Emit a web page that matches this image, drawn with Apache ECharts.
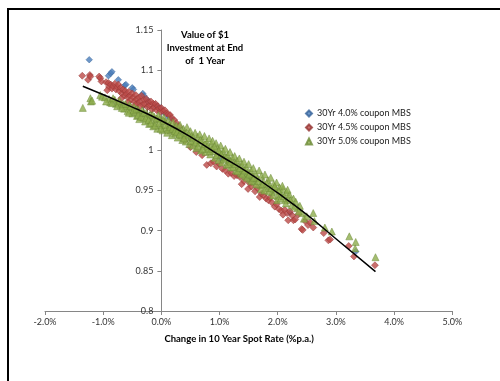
<!DOCTYPE html>
<html>
<head>
<meta charset="utf-8">
<script src="https://cdn.jsdelivr.net/npm/echarts@6/dist/echarts.min.js"></script>
<style>
html,body{margin:0;padding:0;background:#fff;}
#c{width:500px;height:381px;}
</style>
</head>
<body>
<div id="c"></div>
<script>
const seriesNames = ['30Yr 4.0% coupon MBS', '30Yr 4.5% coupon MBS', '30Yr 5.0% coupon MBS'];
const titleLines = ['Value of $1', 'Investment at End', 'of  1 Year'];
const xAxisTitle = 'Change in 10 Year Spot Rate (%p.a.)';

// [change in rate (%), value of $1]
const mbs40 = [
[-1.24,1.113],[-0.91,1.093],[-0.87,1.096],[-0.85,1.098],[-0.74,1.088],[-0.63,1.081],[-0.61,1.082],
[-0.5,1.078],[-0.48,1.076],[-0.32,1.071],[-0.3,1.068],[-0.24,1.063],[-0.22,1.060],[-0.11,1.057],
[-0.06,1.054],[-0.02,1.053],[0.05,1.047],[0.12,1.042],[0.15,1.040],[0.5,1.015],[1.0,0.990],
[1.5,0.965],[2.21,0.922],[3.34,0.874]
];
const mbs45 = [
[-1.36,1.093],[-1.23,1.094],[-1.26,1.088],[-1.22,1.092],[-1.07,1.092],[-1.05,1.090],[-1.03,1.086],
[-0.95,1.085],[-0.91,1.084],[-0.9,1.079],[-0.87,1.082],[-0.85,1.077],[-0.83,1.080],[-0.8,1.083],
[-0.78,1.076],[-0.76,1.079],[-0.74,1.082],[-0.72,1.074],[-0.7,1.078],[-0.68,1.071],[-0.66,1.076],
[-0.64,1.068],[-0.62,1.074],[-0.6,1.070],[-0.58,1.066],[-0.56,1.073],[-0.54,1.068],[-0.52,1.063],
[-0.5,1.071],[-0.48,1.066],[-0.46,1.061],[-0.44,1.069],[-0.42,1.064],[-0.4,1.059],[-0.38,1.066],
[-0.36,1.061],[-0.34,1.068],[-0.32,1.057],[-0.3,1.063],[-0.28,1.058],[-0.26,1.064],[-0.24,1.054],
[-0.22,1.060],[-0.2,1.056],[-0.18,1.061],[-0.16,1.051],[-0.14,1.058],[-0.12,1.054],[-0.1,1.058],
[-0.08,1.050],[-0.06,1.055],[-0.04,1.052],[-0.02,1.048],[0.0,1.053],[0.03,1.049],[0.06,1.050],
[0.09,1.046],[0.12,1.045],[0.15,1.044],[0.18,1.040],[0.22,1.038],[0.26,1.034],[0.3,1.030],
[-0.93,1.075],[-0.69,1.065],[-0.57,1.060],[-0.45,1.057],[-0.37,1.055],
[0.4,1.012],[0.5,1.004],[0.6,0.998],[0.7,0.994],[0.78,0.982],[0.85,0.984],[0.9,0.986],[0.95,0.980],
[1.0,0.983],[1.05,0.977],[1.1,0.975],[1.15,0.971],[1.2,0.972],[1.25,0.968],[1.3,0.969],[1.35,0.967],
[1.38,0.958],[1.42,0.962],[1.49,0.952],[1.52,0.959],[1.55,0.955],[1.61,0.949],[1.65,0.953],
[1.69,0.942],[1.72,0.946],[1.76,0.944],[1.8,0.940],[1.84,0.938],[1.87,0.941],[1.9,0.935],
[1.95,0.930],[1.98,0.933],[2.02,0.927],[2.06,0.925],[2.09,0.920],[2.12,0.926],[2.16,0.922],
[2.18,0.913],[2.21,0.924],[2.25,0.919],[2.27,0.913],[2.3,0.914],[2.35,0.920],[2.41,0.902],
[2.43,0.901],[2.47,0.912],[2.52,0.907],[2.56,0.910],[2.61,0.904],[2.79,0.897],[2.87,0.888],
[2.9,0.889],[3.22,0.881],[3.31,0.868],[3.67,0.857]
];
const mbs50 = [
[-1.35,1.053],[-1.22,1.065],[-1.21,1.061],[-1.19,1.062],[-1.05,1.069],[-1.02,1.067],[-0.97,1.066],
[-0.9,1.064],[-0.88,1.060],[-0.8,1.063],[-0.78,1.058],[-0.74,1.060],[-0.7,1.056],[-0.66,1.058],
[-0.64,1.052],[-0.6,1.055],[-0.58,1.049],[-0.55,1.057],[-0.52,1.051],[-0.5,1.046],[-0.47,1.054],
[-0.45,1.048],[-0.42,1.043],[-0.4,1.051],[-0.38,1.039],[-0.36,1.046],[-0.33,1.050],[-0.31,1.041],
[-0.28,1.036],[-0.26,1.047],[-0.24,1.043],[-0.21,1.033],[-0.19,1.045],[-0.17,1.038],[-0.14,1.030],
[-0.12,1.042],[-0.1,1.035],[-0.07,1.027],[-0.05,1.044],[-0.03,1.039],[0.0,1.031],[0.02,1.025],
[0.04,1.041],[0.06,1.036],[0.08,1.028],[0.1,1.022],[0.12,1.038],[0.14,1.032],[0.16,1.025],
[0.18,1.019],[0.2,1.035],[0.22,1.029],[0.24,1.021],[0.26,1.031],[0.28,1.016],[0.3,1.026],
[0.32,1.032],[0.34,1.019],[0.36,1.013],[0.38,1.027],[0.4,1.021],[0.42,1.011],[0.44,1.029],
[0.46,1.016],[0.48,1.008],[0.5,1.024],[0.52,1.018],[0.54,1.006],[0.56,1.012],[0.58,1.022],
[0.6,1.003],[0.62,1.017],[0.64,1.009],[0.66,1.020],[0.68,1.000],[0.7,1.013],[0.72,1.006],
[0.74,1.018],[0.76,0.998],[0.78,1.010],[0.8,1.002],[0.82,1.015],[0.84,0.995],[0.86,1.007],
[0.88,1.012],[0.9,0.999],[0.92,0.991],[0.94,1.009],[0.96,1.003],[0.98,0.988],[1.0,0.997],
[1.02,1.006],[1.04,0.985],[1.06,0.999],[1.08,0.992],[1.1,1.002],[1.12,0.982],[1.14,0.994],
[1.16,0.988],[1.18,0.998],[1.2,0.979],[1.22,0.991],[1.24,0.984],[1.26,0.993],[1.28,0.975],
[1.3,0.987],[1.32,0.980],[1.34,0.990],[1.36,0.972],[1.38,0.983],[1.4,0.976],[1.42,0.986],
[1.44,0.968],[1.46,0.979],[1.48,0.972],[1.5,0.983],[1.52,0.964],[1.54,0.975],[1.56,0.968],
[1.58,0.978],[1.6,0.961],[1.62,0.971],[1.65,0.965],[1.68,0.975],[1.7,0.957],[1.72,0.968],
[1.75,0.961],[1.78,0.970],[1.8,0.953],[1.83,0.963],[1.86,0.956],[1.88,0.966],[1.9,0.948],
[1.93,0.958],[1.96,0.951],[1.98,0.960],[2.0,0.943],[2.03,0.954],[2.06,0.946],[2.09,0.952],
[2.12,0.938],[2.15,0.948],[2.18,0.940],[2.2,0.945],[2.24,0.932],[2.27,0.940],[2.31,0.936],
[2.34,0.928],[2.38,0.931],[2.42,0.922],[2.45,0.915],[2.5,0.918],[2.61,0.922],[2.63,0.912],
[2.81,0.904],[2.93,0.899],[3.23,0.893],[3.34,0.886],[3.33,0.878],[3.68,0.867],
[-0.95,1.061],[-0.85,1.059],[-0.83,1.065],[-0.76,1.055],[-0.72,1.062],[-0.68,1.053],[-0.62,1.058],
[-0.56,1.047],[-0.53,1.055],[-0.48,1.050],[-0.43,1.052],[-0.4,1.044],[-0.35,1.042],[-0.3,1.047],
[-0.27,1.040],[-0.22,1.038],[-0.18,1.034],[-0.15,1.044],[-0.11,1.031],[-0.08,1.040],[-0.04,1.034],
[-0.01,1.027],[0.03,1.037],[0.07,1.032],[0.11,1.026],[0.15,1.029],[0.19,1.027],[0.23,1.024],
[0.27,1.023],[0.31,1.020],[0.35,1.025],[0.39,1.015],[0.43,1.022],[0.47,1.020],[0.51,1.012],
[0.55,1.016],[0.59,1.010],[0.63,1.005],[0.67,1.013],[0.71,1.002],[0.75,1.008],[0.79,1.005],
[0.83,0.999],[0.87,1.002],[0.91,1.005],[0.95,0.994],[0.99,1.000],[1.03,0.995],[1.07,0.989],
[1.11,0.991],[1.15,0.983],[1.19,0.986],[1.23,0.979],[1.27,0.983],[1.31,0.974],[1.35,0.978],
[1.39,0.970],[1.43,0.975],[1.47,0.966],[1.51,0.970],[1.55,0.962],[1.59,0.966],[1.63,0.958],
[1.67,0.962],[1.71,0.952],[1.74,0.958],[1.77,0.950],[1.81,0.959],[1.85,0.949],[1.89,0.953],
[1.92,0.944],[1.95,0.955],[1.99,0.938],[2.02,0.949],[2.05,0.940],[2.08,0.956],[2.11,0.943],
[2.14,0.934],[2.17,0.951],[2.22,0.938],[2.29,0.930],[2.36,0.924]
];
// trend line
const trendX = [-1.35, -0.5, 0, 0.5, 1, 1.5, 2, 2.5, 3, 3.68];
const trendY = [1.080, 1.054, 1.037, 1.017, 0.994, 0.972, 0.947, 0.920, 0.890, 0.849];

const colors = ['#4A7DBA', '#BC4A47', '#8DAD4C'];
const borders = ['#36639A', '#933532', '#6C8A36'];
const FONT = 'Lato, "Open Sans", sans-serif';

const chart = echarts.init(document.getElementById('c'), null, {renderer: 'canvas'});
chart.setOption({
  animation: false,
  backgroundColor: '#fff',
  color: colors,
  graphic: [
    {type: 'rect', shape: {x: 8, y: 9, width: 700, height: 700},
     style: {fill: 'none', stroke: '#000', lineWidth: 2}, silent: true},
    {type: 'text', x: 205, y: 28,
     style: {text: titleLines.join('\n'), align: 'center', verticalAlign: 'top',
             font: 'bold 9.5px ' + FONT, lineHeight: 13, fill: '#000'}}
  ],
  legend: {
    orient: 'vertical', left: 300, top: 103,
    itemWidth: 6, itemHeight: 6, itemGap: 3,
    textStyle: {fontFamily: FONT, fontSize: 9, color: '#222', lineHeight: 11},
    data: [
      {name: seriesNames[0], icon: 'diamond'},
      {name: seriesNames[1], icon: 'diamond'},
      {name: seriesNames[2], icon: 'triangle'}
    ]
  },
  grid: {left: 45, right: 47.7, top: 30, bottom: 70, containLabel: false, outerBoundsMode: 'none'},
  xAxis: {
    type: 'value', min: -2, max: 5, interval: 1,
    splitLine: {show: false},
    axisLine: {onZero: false, lineStyle: {color: '#868686'}},
    axisTick: {show: true, length: 4, lineStyle: {color: '#868686'}},
    axisLabel: {fontFamily: FONT, fontSize: 9, color: '#333', margin: 7,
                formatter: v => v.toFixed(1) + '%'},
    name: xAxisTitle, nameLocation: 'middle', nameGap: 23,
    nameTextStyle: {fontFamily: FONT, fontSize: 9.5, fontWeight: 'bold', color: '#000', padding: [0, 19, 0, 0]}
  },
  yAxis: {
    type: 'value', min: 0.8, max: 1.15, interval: 0.05,
    offset: -116.4,
    splitLine: {show: false},
    axisLine: {onZero: false, lineStyle: {color: '#868686'}},
    axisTick: {show: true, length: 4, lineStyle: {color: '#868686'}},
    axisLabel: {fontFamily: FONT, fontSize: 9, color: '#333', margin: 8,
                formatter: v => String(parseFloat(v.toFixed(2)))}
  },
  series: [
    {name: seriesNames[0], type: 'scatter', symbol: 'diamond', symbolSize: 6.5, data: mbs40,
     itemStyle: {color: colors[0], borderColor: borders[0], borderWidth: 0.6}, z: 2},
    {name: seriesNames[1], type: 'scatter', symbol: 'diamond', symbolSize: 7, data: mbs45,
     itemStyle: {color: colors[1], borderColor: borders[1], borderWidth: 0.6}, z: 3},
    {name: seriesNames[2], type: 'scatter', symbol: 'triangle', symbolSize: 7, data: mbs50,
     itemStyle: {color: colors[2], borderColor: borders[2], borderWidth: 0.6}, z: 4},
    {name: 'trend', type: 'line', data: trendX.map((x, i) => [x, trendY[i]]),
     smooth: true, symbol: 'none', lineStyle: {color: '#000', width: 1.5}, z: 5, silent: true}
  ]
});
</script>
</body>
</html>
